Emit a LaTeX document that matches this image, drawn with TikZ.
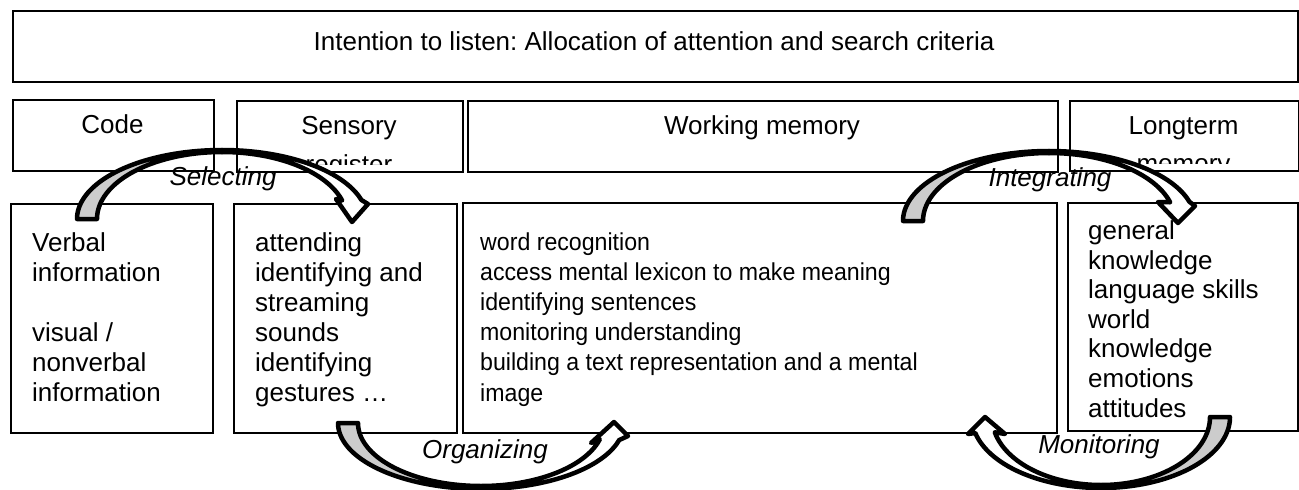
\documentclass[tikz,border=0pt]{standalone}
\usepackage{fontspec}
\setmainfont{Liberation Sans}
\newfontfamily\wmfont[FakeStretch=0.945]{Liberation Sans}
\frenchspacing
\begin{document}
\begin{tikzpicture}[x=1pt,y=1pt,
  box/.style={draw=black, line width=2pt, inner sep=0pt, anchor=north west},
  line/.style={inner sep=0pt, font=\fontsize{26}{30}\selectfont},
  wline/.style={inner sep=0pt, font=\wmfont\fontsize{24.5}{30}\selectfont},
  lbl/.style={inner sep=0pt, anchor=base, font=\fontsize{26}{30}\selectfont\itshape},
  arrowline/.style={draw=black, line width=4.5pt, line join=round},
  backface/.style={arrowline, fill=black!20},
  frontface/.style={arrowline, fill=white}]
\useasboundingbox (0,0) rectangle (1299,-490);
\fill[white] (0,0) rectangle (1299,-490);

% boxes
\node[box, minimum width=1285, minimum height=71] (title) at (12,-10) {};
\node[box, minimum width=201, minimum height=71] (code) at (12,-99) {};
\node[box, minimum width=226, minimum height=71] (sens) at (236,-100) {};
\node[box, minimum width=590, minimum height=71] (work) at (467,-100) {};
\node[box, minimum width=229, minimum height=70] (long) at (1069,-100) {};
\node[box, minimum width=202, minimum height=229] (codeB) at (10,-203) {};
\node[box, minimum width=223, minimum height=229] (sensB) at (233,-203) {};
\node[box, minimum width=594, minimum height=230] (workB) at (462,-202) {};
\node[box, minimum width=230, minimum height=228] (longB) at (1067,-202) {};

% headers
\node[line, anchor=base] (titleT) at (654,-50) {Intention to listen: Allocation of attention and search criteria};
\node[line, anchor=base] (codeT) at (112.5,-133.5) {Code};
\node[line, anchor=base] (sensT) at (349,-134) {Sensory};
\node[line, anchor=base] (workT) at (762,-134) {Working memory};
\node[line, anchor=base] (longT) at (1183.5,-134) {Longterm};
\begin{scope}
  \clip (236,-100) rectangle (462,-164);
  \node[line, anchor=base] (sensT2) at (349,-173) {register};
\end{scope}
\begin{scope}
  \clip (1069,-100) rectangle (1298,-163);
  \node[line, anchor=base] (longT2) at (1183.5,-172) {memory};
\end{scope}

% body texts
\foreach \t [count=\i from 0] in {Verbal,information,{},visual /,nonverbal,information}
  \node[line, anchor=base west] (cv\i) at (32,-251-30*\i) {\t};
\foreach \t [count=\i from 0] in {attending,identifying and,streaming,sounds,identifying,gestures …}
  \node[line, anchor=base west] (sv\i) at (255,-251-30*\i) {\t};
\foreach \t [count=\i from 0] in {word recognition,access mental lexicon to make meaning,identifying sentences,monitoring understanding,building a text representation and a mental,image}
  \node[wline, anchor=base west] (wv\i) at (480,-250-30.2*\i) {\t};
\foreach \t [count=\i from 0] in {general,knowledge,language skills,world,knowledge,emotions,attitudes}
  \node[line, anchor=base west] (lv\i) at (1088,-239.5-29.6*\i) {\t};

% Selecting arrow
\filldraw[backface] plot[domain=180:90, samples=60] ({222+145*cos(\x)},{-219+69*sin(\x)})
  -- plot[domain=90:180, samples=60] ({222+125*cos(\x)},{-219+67*sin(\x)}) -- cycle;
\filldraw[frontface] plot[domain=90:16, samples=60] ({222+145*cos(\x)},{-219+69*sin(\x)})
  -- (368,-204) -- (352,-222) -- (336,-199)
  -- plot[domain=16:90, samples=60] ({222+125*cos(\x)},{-219+67*sin(\x)}) -- cycle;
\node[lbl] (selT) at (223,-185) {Selecting};

% Integrating arrow
\filldraw[backface] plot[domain=180:90, samples=60] ({1049+146*cos(\x)},{-221+70*sin(\x)})
  -- plot[domain=90:180, samples=60] ({1049+126*cos(\x)},{-221+68*sin(\x)}) -- cycle;
\filldraw[frontface] plot[domain=90:16, samples=60] ({1049+146*cos(\x)},{-221+70*sin(\x)})
  -- (1195,-206) -- (1178,-223) -- (1158,-202)
  -- plot[domain=16:90, samples=60] ({1049+126*cos(\x)},{-221+68*sin(\x)}) -- cycle;
\node[lbl] (intT) at (1050,-186) {Integrating};

% Organizing arrow
\filldraw[backface] plot[domain=180:270, samples=60] ({481+143*cos(\x)},{-423+66*sin(\x)})
  -- plot[domain=270:180, samples=60] ({481+123*cos(\x)},{-423+63*sin(\x)}) -- cycle;
\filldraw[frontface] plot[domain=270:345, samples=60] ({481+143*cos(\x)},{-423+66*sin(\x)})
  -- (628,-436) -- (614,-422) -- (591,-443)
  -- plot[domain=345:270, samples=60] ({481+123*cos(\x)},{-423+63*sin(\x)}) -- cycle;
\node[lbl] (orgT) at (485,-458) {Organizing};

% Monitoring arrow
\filldraw[backface] plot[domain=360:270, samples=60] ({1101+129*cos(\x)},{-417+71*sin(\x)})
  -- plot[domain=270:360, samples=60] ({1101+109*cos(\x)},{-417+68*sin(\x)}) -- cycle;
\filldraw[frontface] plot[domain=270:193, samples=60] ({1101+129*cos(\x)},{-417+71*sin(\x)})
  -- (968,-434) -- (985,-417) -- (1005,-434)
  -- plot[domain=193:270, samples=60] ({1101+109*cos(\x)},{-417+68*sin(\x)}) -- cycle;
\node[lbl] (monT) at (1099,-453) {Monitoring};
\end{tikzpicture}
\end{document}
